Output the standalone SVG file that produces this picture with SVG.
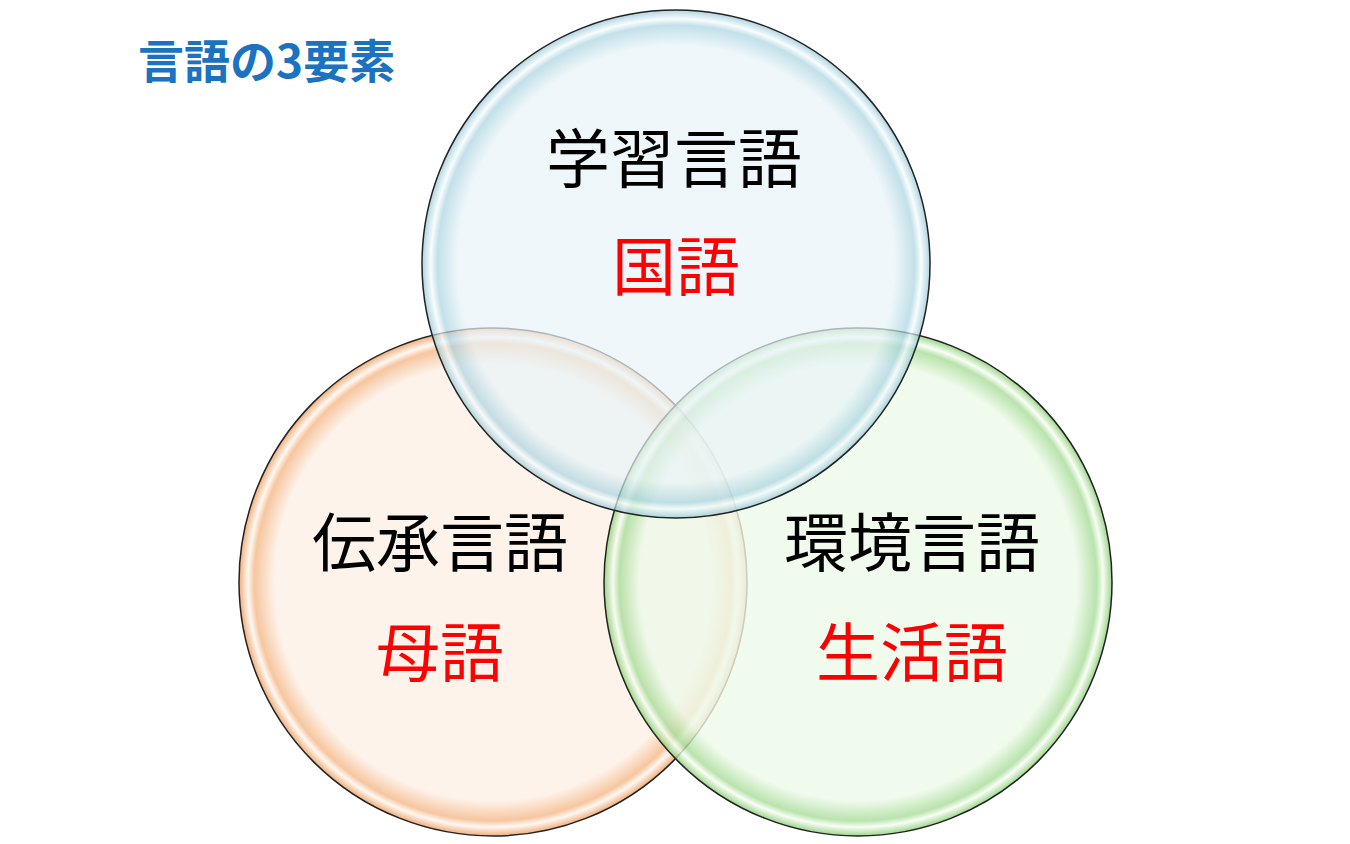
<svg xmlns="http://www.w3.org/2000/svg" width="1350" height="844" viewBox="0 0 1350 844">
<style>
.t{font-family:"Noto Sans CJK JP","Noto Sans",sans-serif;font-size:64px;text-anchor:middle;fill:#000}
.r{fill:#ff0000;font-size:64px}
.c{stroke:#222;stroke-width:1.5}
</style>
<defs>
<radialGradient id="gb"><stop offset="0" stop-color="#e8f3f7"/><stop offset="0.86" stop-color="#e8f3f7"/><stop offset="0.94" stop-color="#a9d3e0"/><stop offset="0.965" stop-color="#f4fbfd"/><stop offset="1" stop-color="#8fc3d4"/></radialGradient>
<radialGradient id="go"><stop offset="0" stop-color="#fdf0e6"/><stop offset="0.86" stop-color="#fdf0e6"/><stop offset="0.94" stop-color="#f4b887"/><stop offset="0.965" stop-color="#fff6ef"/><stop offset="1" stop-color="#ec9a5a"/></radialGradient>
<radialGradient id="gg"><stop offset="0" stop-color="#edf9e9"/><stop offset="0.86" stop-color="#edf9e9"/><stop offset="0.94" stop-color="#a8dc98"/><stop offset="0.965" stop-color="#f6fdf3"/><stop offset="1" stop-color="#86cc70"/></radialGradient>
</defs>
<rect width="1350" height="844" fill="#fff"/>
<text x="138" y="78" style="font-family:'Noto Sans CJK JP',sans-serif;font-size:46px;font-weight:bold;fill:#1a72c0">言語の3要素</text>
<g id="left"><circle class="c" cx="493" cy="582" r="254" fill="url(#go)" fill-opacity="0.8"/></g>
<g id="right"><circle class="c" cx="858" cy="582" r="254" fill="url(#gg)" fill-opacity="0.8"/></g>
<g id="top"><circle class="c" cx="676" cy="264" r="254" fill="url(#gb)" fill-opacity="0.7"/></g>
<g id="labels">
<text class="t" x="674" y="182">学習言語</text>
<text class="t r" x="676" y="290">国語</text>
<text class="t" x="440" y="566">伝承言語</text>
<text class="t r" x="440" y="676">母語</text>
<text class="t" x="912" y="566">環境言語</text>
<text class="t r" x="912" y="676">生活語</text>
</g>
<g id="connectors"/>
</svg>
